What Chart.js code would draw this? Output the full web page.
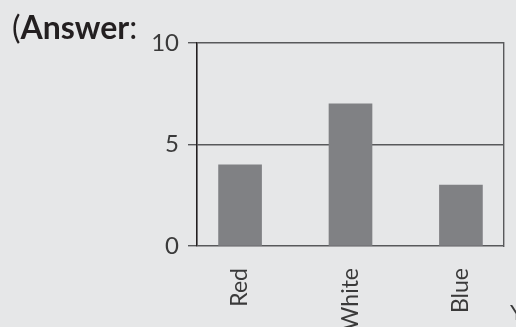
<!DOCTYPE html>
<html>
<head>
<meta charset="utf-8">
<script src="https://cdn.jsdelivr.net/npm/chart.js@4"></script>
<style>
  html, body { margin: 0; padding: 0; background: #e6e7e8; overflow: hidden; }
  #wrap { position: relative; width: 516px; height: 327px; }
  #answer { position: absolute; left: 12px; top: 7px; font-family: Lato, sans-serif; font-size: 32px; color: #231f20; }
  #answer b { font-weight: 700; }
  #cut { position: absolute; left: 510px; top: 298px; font-family: Lato, sans-serif; font-size: 22px; color: #3a3a3a; }
</style>
</head>
<body>
<div id="wrap">
  <canvas id="chart" width="516" height="327"></canvas>
  <div id="answer">(<b>Answer</b>:</div>
  <div id="cut">Y</div>
</div>
<script>
const categories = ['Red', 'White', 'Blue'];
const counts = [4, 7, 3];
const yTicks = [0, 5, 10];

const ink = '#231f20';
const lineGray = '#58595b';
const barGray = '#808184';

new Chart(document.getElementById('chart'), {
  type: 'bar',
  data: {
    datasets: [{
      data: categories.map((c, i) => ({ x: i, y: counts[i] })),
      backgroundColor: barGray,
      barThickness: 43
    }]
  },
  options: {
    responsive: false,
    animation: false,
    layout: { padding: { top: 43, right: 12, left: 0, bottom: 0 }},
    plugins: { legend: { display: false }, tooltip: { enabled: false }},
    scales: {
      x: {
        type: 'linear',
        offset: false,
        min: -0.39,
        max: 2.39,
        afterBuildTicks: s => { s.ticks = categories.map((c, i) => ({ value: i })); },
        afterFit: s => { s.height = 81; },
        grid: { display: false },
        border: { display: false },
        ticks: {
          callback: v => categories[v],
          minRotation: 90,
          maxRotation: 90,
          padding: 14,
          color: '#3a3a3a',
          font: { family: 'Lato', size: 23 }
        }
      },
      y: {
        min: 0,
        max: 10,
        afterBuildTicks: s => { s.ticks = yTicks.map(v => ({ value: v })); },
        afterFit: s => { s.width = 197; },
        grid: { color: lineGray, lineWidth: 1.4, tickLength: 9, tickColor: lineGray },
        border: { color: ink, width: 1.6 },
        ticks: {
          padding: 9,
          color: '#3a3a3a',
          font: { family: 'Lato', size: 24 }
        }
      },
      y2: {
        position: 'right',
        min: 0,
        max: 10,
        afterFit: s => { s.width = 0; },
        grid: { display: false },
        border: { color: lineGray, width: 1.4 },
        ticks: { display: false }
      }
    }
  }
});
</script>
</body>
</html>
